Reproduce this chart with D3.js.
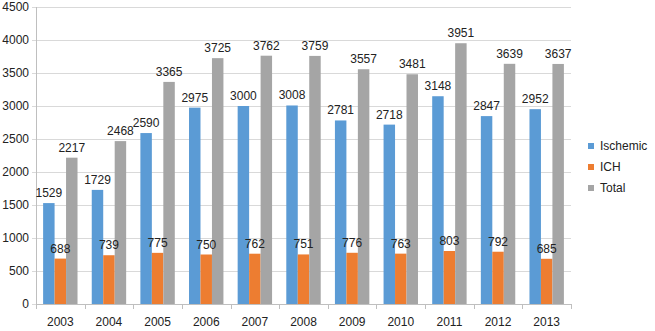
<!DOCTYPE html>
<html>
  <head>
    <meta charset="UTF-8" />
    <style>
      body { margin: 0; background: #fff; }
      text { font-family: "Liberation Sans", Arial, sans-serif; fill: #222; font-size: 12px; }
    </style>
  </head>
  <body>
    <script src="https://cdn.jsdelivr.net/npm/d3@7/dist/d3.min.js"></script>
    <script>
      var years = ["2003", "2004", "2005", "2006", "2007", "2008", "2009", "2010", "2011", "2012", "2013"];
      var ischemic = [1529, 1729, 2590, 2975, 3000, 3008, 2781, 2718, 3148, 2847, 2952];
      var ich = [688, 739, 775, 750, 762, 751, 776, 763, 803, 792, 685];
      var total = [2217, 2468, 3365, 3725, 3762, 3759, 3557, 3481, 3951, 3639, 3637];
      var seriesNames = ["Ischemic", "ICH", "Total"];
      var colors = ["#5b9bd5", "#ed7d31", "#a5a5a5"];
      var yTicks = [0, 500, 1000, 1500, 2000, 2500, 3000, 3500, 4000, 4500];

      var series = [ischemic, ich, total];

      var svg = d3.select("body").append("svg")
        .attr("width", 655)
        .attr("height", 331);

      var plotLeft = 36, plotRight = 571, plotTop = 7, plotBottom = 304;

      var x = d3.scaleBand().domain(years).range([plotLeft, plotRight]);
      var inner = d3.scaleBand().domain(seriesNames)
        .range([0, x.bandwidth()]).paddingOuter(0.62).paddingInner(0);
      var y = d3.scaleLinear().domain([0, 4500]).range([plotBottom, plotTop]);

      // gridlines
      svg.append("g").selectAll("line")
        .data(yTicks)
        .enter().append("line")
        .attr("x1", plotLeft - 4).attr("x2", plotRight)
        .attr("y1", function(d) { return Math.round(y(d)) + 0.5; })
        .attr("y2", function(d) { return Math.round(y(d)) + 0.5; })
        .style("stroke", "#d9d9d9");

      // y labels
      svg.append("g").selectAll("text")
        .data(yTicks)
        .enter().append("text")
        .attr("x", 29)
        .attr("y", function(d) { return y(d) + 4; })
        .attr("text-anchor", "end")
        .text(function(d) { return d; });

      // bars
      series.forEach(function(vals, s) {
        var g = svg.append("g");
        g.selectAll("rect")
          .data(vals)
          .enter().append("rect")
          .attr("x", function(d, i) { return x(years[i]) + inner(seriesNames[s]); })
          .attr("width", inner.bandwidth())
          .attr("y", function(d) { return y(d); })
          .attr("height", function(d) { return plotBottom - y(d); })
          .style("fill", colors[s]);
      });

      // axis lines
      svg.append("line")
        .attr("x1", plotLeft + 0.5).attr("x2", plotLeft + 0.5)
        .attr("y1", plotTop).attr("y2", plotBottom)
        .style("stroke", "#bfbfbf");
      svg.append("line")
        .attr("x1", plotLeft).attr("x2", plotRight)
        .attr("y1", plotBottom + 0.5).attr("y2", plotBottom + 0.5)
        .style("stroke", "#bfbfbf");
      svg.append("g").selectAll("line")
        .data(years.concat(["end"]))
        .enter().append("line")
        .attr("x1", function(d, i) { return Math.round(plotLeft + i * x.step()) + 0.5; })
        .attr("x2", function(d, i) { return Math.round(plotLeft + i * x.step()) + 0.5; })
        .attr("y1", plotBottom).attr("y2", plotBottom + 5)
        .style("stroke", "#bfbfbf");

      // x labels
      svg.append("g").selectAll("text")
        .data(years)
        .enter().append("text")
        .attr("x", function(d) { return x(d) + x.bandwidth() / 2; })
        .attr("y", 326)
        .attr("text-anchor", "middle")
        .text(function(d) { return d; });

      // data labels
      series.forEach(function(vals, s) {
        svg.append("g").selectAll("text")
          .data(vals)
          .enter().append("text")
          .attr("x", function(d, i) { return x(years[i]) + inner(seriesNames[s]) + inner.bandwidth() / 2; })
          .attr("y", function(d) { return y(d) - 6; })
          .attr("text-anchor", "middle")
          .text(function(d) { return d; });
      });

      // legend
      var legend = svg.append("g").selectAll("g")
        .data(seriesNames)
        .enter().append("g")
        .attr("transform", function(d, i) { return "translate(588," + (146 + i * 21) + ")"; });
      legend.append("rect")
        .attr("x", 0).attr("y", -3)
        .attr("width", 6).attr("height", 6)
        .style("fill", function(d, i) { return colors[i]; });
      legend.append("text")
        .attr("x", 12).attr("y", 4)
        .text(function(d) { return d; });
    </script>
  </body>
</html>
